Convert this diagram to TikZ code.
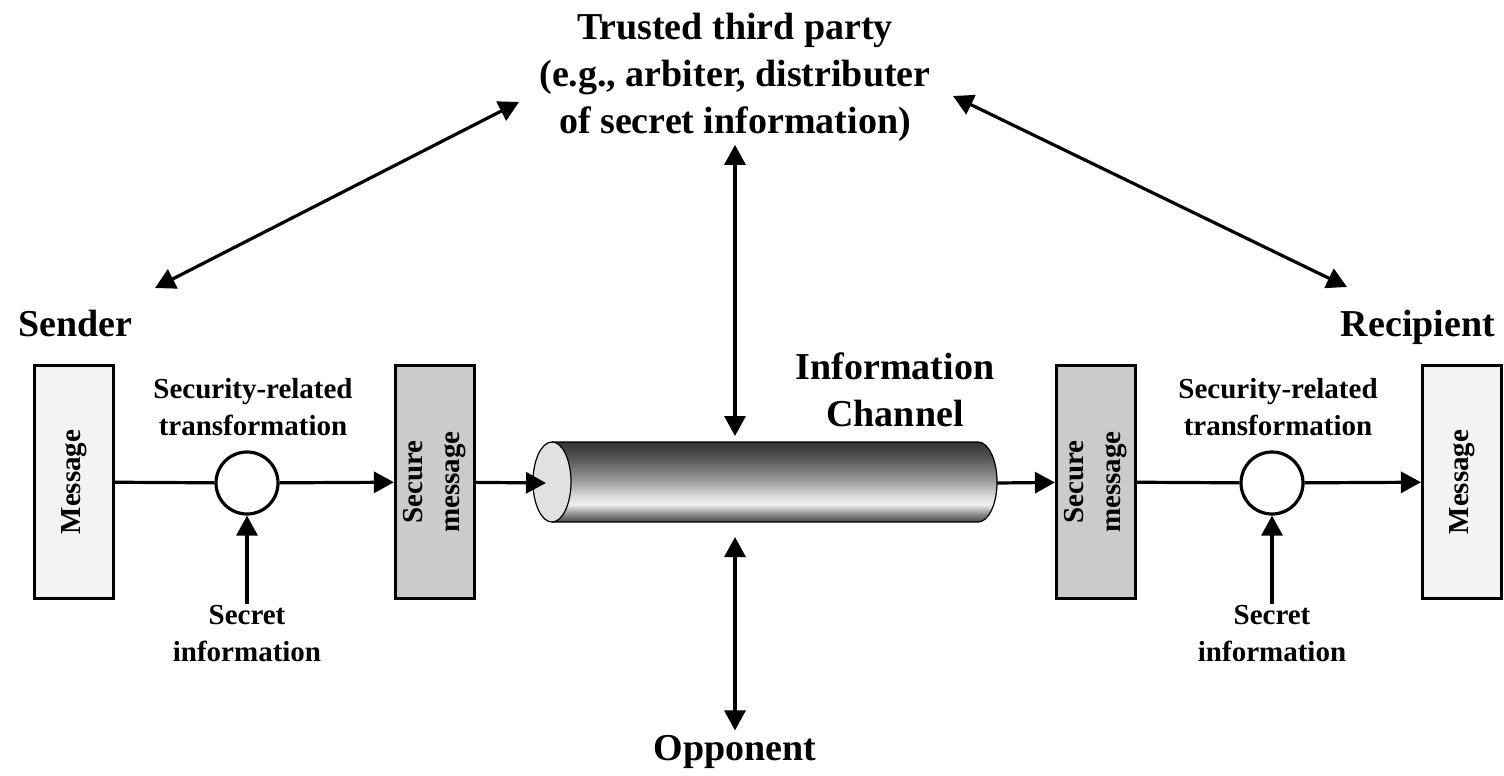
\documentclass[tikz,border=0pt]{standalone}
\usepackage{fontspec}
\setmainfont{Liberation Serif}
\usetikzlibrary{arrows.meta}

\definecolor{paleBox}{HTML}{F3F3F3}
\definecolor{greyBox}{HTML}{C9CBCC}
\definecolor{capGrey}{HTML}{DFE1E2}
\pgfdeclareverticalshading{pipe}{100bp}{%
  color(0bp)=(black!72); color(25bp)=(black!72); color(30bp)=(black!45);
  color(36bp)=(black!6); color(42bp)=(black!16); color(52bp)=(black!42);
  color(65bp)=(black!66); color(75bp)=(black!80); color(100bp)=(black!80)}

\begin{document}
\begin{tikzpicture}[x=1pt, y=-1pt, line width=3.2pt,
    >={Triangle[length=20pt,width=21pt]},
    big/.style={font=\fontsize{38}{47}\selectfont\bfseries, align=center},
    small/.style={font=\fontsize{29}{37}\selectfont\bfseries, align=center},
    msgbox/.style={draw, small, rotate=90, minimum width=233pt, minimum height=79pt, inner sep=0pt},
    xform/.style={draw, circle, fill=white, minimum size=62pt, inner sep=0pt}]
  \useasboundingbox (0,0) rectangle (1504,776);

  % titles
  \node[big, inner sep=2pt] (ttp) at (735,77) {Trusted third party\\(e.g., arbiter, distributer\\of secret information)};
  \node[big, anchor=base] (sender) at (75,336) {Sender};
  \node[big, anchor=base] (recip) at (1418,336) {Recipient};
  \node[big] (chan) at (895,390) {Information\\Channel};
  \node[big] (opp) at (735,752) {Opponent};

  % sender side
  \node[msgbox, fill=paleBox] (msgL) at (74,482) {Message};
  \node[xform] (trL) at (247,483) {};
  \node[small] (trLlab) at (253,407) {Security-related\\transformation};
  \node[small, anchor=north] (keyL) at (247,600) {Secret\\information};
  \node[msgbox, fill=greyBox] (secL) at (435,482) {Secure\\message};

  % recipient side
  \node[msgbox, fill=greyBox] (secR) at (1096,482) {Secure\\message};
  \node[xform] (trR) at (1272,483) {};
  \node[small] (trRlab) at (1278,407) {Security-related\\transformation};
  \node[small, anchor=north] (keyR) at (1272,600) {Secret\\information};
  \node[msgbox, fill=paleBox] (msgR) at (1462,482) {Message};

  % the channel
  \shade[shading=pipe] (552,442) -- (978,442) arc[start angle=-90, end angle=90, x radius=19, y radius=40] -- (552,522) -- cycle;
  \draw[line width=1.2pt] (552,442) -- (978,442) arc[start angle=-90, end angle=90, x radius=19, y radius=40] -- (552,522);
  \draw[line width=1.2pt, fill=capGrey] (552,482) ellipse [x radius=19, y radius=40];

  \coordinate (chIn) at (546,483);
  \coordinate (chOut) at (997,483);
  \coordinate (chTop) at (735,436);
  \coordinate (chBot) at (735,537);
  \coordinate (sndUp) at (155,288);
  \coordinate (ttpL) at (519,102);
  \coordinate (ttpR) at (953,96);
  \coordinate (rcpUp) at (1347,287);

  % message flow
  \draw (msgL) -- (trL);
  \draw[->] (trL) -- (secL);
  \draw[->] (secL) -- (chIn);
  \draw[->] (chOut) -- (secR);
  \draw (secR) -- (trR);
  \draw[->] (trR) -- (msgR);
  \draw[->] ([yshift=-4pt]keyL.north) -- (trL);
  \draw[->] ([yshift=-4pt]keyR.north) -- (trR);

  % third party and opponent
  \draw[<->] (ttp.south) -- (chTop);
  \draw[<->] (chBot) -- (opp.north);
  \draw[<->] (sndUp) -- (ttpL);
  \draw[<->] (ttpR) -- (rcpUp);
\end{tikzpicture}
\end{document}
